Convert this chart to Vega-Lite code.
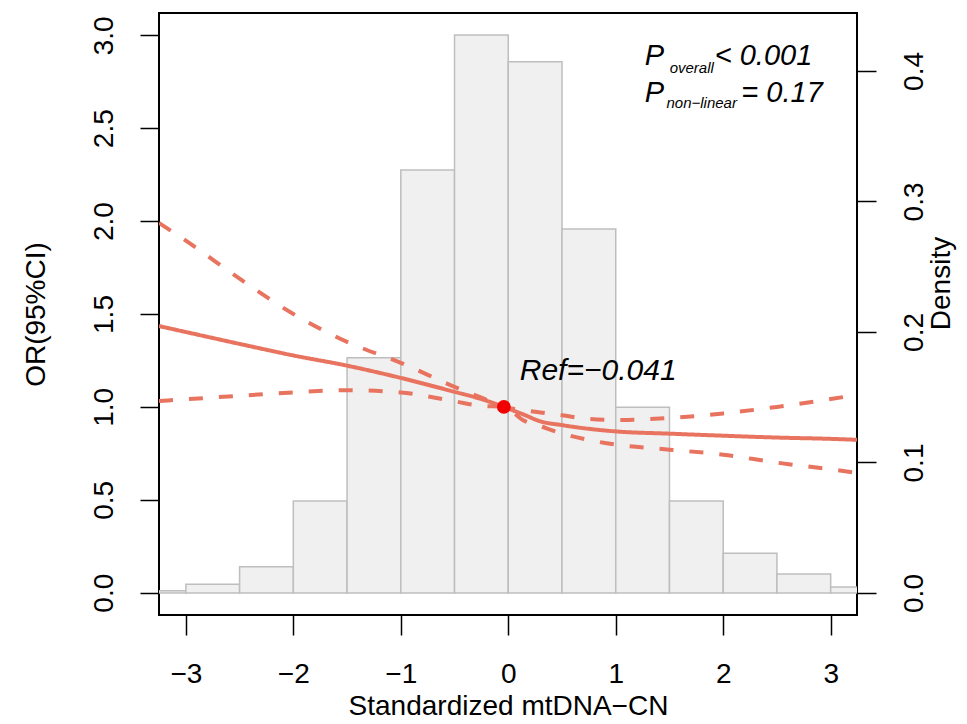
{
  "$schema": "https://vega.github.io/schema/vega-lite/v6.json",
  "width": 698,
  "height": 602,
  "autosize": {"type": "none"},
  "padding": {"left": 159, "top": 13, "right": 110, "bottom": 109},
  "background": "white",
  "config": {
    "font": "Liberation Sans",
    "view": {"stroke": "black", "strokeWidth": 2},
    "axis": {"grid": false, "domain": false, "tickColor": "black", "tickWidth": 1.5, "labelColor": "black", "titleColor": "black", "labelFont": "Liberation Sans", "titleFont": "Liberation Sans", "titleFontWeight": "normal"}
  },
  "datasets": {
    "hist": [
      {"x0": -3.5, "x1": -3.0, "density": 0.0018},
      {"x0": -3.0, "x1": -2.5, "density": 0.0067},
      {"x0": -2.5, "x1": -2.0, "density": 0.0202},
      {"x0": -2.0, "x1": -1.5, "density": 0.0705},
      {"x0": -1.5, "x1": -1.0, "density": 0.1803},
      {"x0": -1.0, "x1": -0.5, "density": 0.3241},
      {"x0": -0.5, "x1": 0.0, "density": 0.4276},
      {"x0": 0.0, "x1": 0.5, "density": 0.4071},
      {"x0": 0.5, "x1": 1.0, "density": 0.2789},
      {"x0": 1.0, "x1": 1.5, "density": 0.1423},
      {"x0": 1.5, "x1": 2.0, "density": 0.0705},
      {"x0": 2.0, "x1": 2.5, "density": 0.0304},
      {"x0": 2.5, "x1": 3.0, "density": 0.0146},
      {"x0": 3.0, "x1": 3.5, "density": 0.0046}
    ],
    "curve": [
      {"x": -3.25, "or": 1.435, "band": "est"}, {"x": -3.0, "or": 1.403, "band": "est"}, {"x": -2.5, "or": 1.339, "band": "est"}, {"x": -2.0, "or": 1.277, "band": "est"}, {"x": -1.5, "or": 1.222, "band": "est"}, {"x": -1.0, "or": 1.156, "band": "est"}, {"x": -0.5, "or": 1.081, "band": "est"}, {"x": -0.25, "or": 1.042, "band": "est"}, {"x": -0.041, "or": 1.0, "band": "est"}, {"x": 0.15, "or": 0.957, "band": "est"}, {"x": 0.3, "or": 0.922, "band": "est"}, {"x": 0.5, "or": 0.902, "band": "est"}, {"x": 0.75, "or": 0.882, "band": "est"}, {"x": 1.0, "or": 0.868, "band": "est"}, {"x": 1.5, "or": 0.856, "band": "est"}, {"x": 2.0, "or": 0.845, "band": "est"}, {"x": 2.5, "or": 0.835, "band": "est"}, {"x": 3.0, "or": 0.828, "band": "est"}, {"x": 3.245, "or": 0.823, "band": "est"},
      {"x": -3.25, "or": 1.032, "band": "lo"}, {"x": -3.0, "or": 1.041, "band": "lo"}, {"x": -2.5, "or": 1.06, "band": "lo"}, {"x": -2.0, "or": 1.078, "band": "lo"}, {"x": -1.5, "or": 1.09, "band": "lo"}, {"x": -1.0, "or": 1.078, "band": "lo"}, {"x": -0.5, "or": 1.03, "band": "lo"}, {"x": -0.25, "or": 1.006, "band": "lo"}, {"x": -0.041, "or": 1.0, "band": "lo"}, {"x": 0.15, "or": 0.925, "band": "lo"}, {"x": 0.3, "or": 0.896, "band": "lo"}, {"x": 0.5, "or": 0.857, "band": "lo"}, {"x": 0.75, "or": 0.822, "band": "lo"}, {"x": 1.0, "or": 0.797, "band": "lo"}, {"x": 1.5, "or": 0.77, "band": "lo"}, {"x": 2.0, "or": 0.743, "band": "lo"}, {"x": 2.5, "or": 0.7, "band": "lo"}, {"x": 3.0, "or": 0.664, "band": "lo"}, {"x": 3.245, "or": 0.645, "band": "lo"},
      {"x": -3.25, "or": 1.99, "band": "hi"}, {"x": -3.0, "or": 1.895, "band": "hi"}, {"x": -2.5, "or": 1.69, "band": "hi"}, {"x": -2.0, "or": 1.5, "band": "hi"}, {"x": -1.5, "or": 1.35, "band": "hi"}, {"x": -1.0, "or": 1.237, "band": "hi"}, {"x": -0.5, "or": 1.108, "band": "hi"}, {"x": -0.25, "or": 1.05, "band": "hi"}, {"x": -0.041, "or": 1.0, "band": "hi"}, {"x": 0.15, "or": 0.982, "band": "hi"}, {"x": 0.3, "or": 0.97, "band": "hi"}, {"x": 0.5, "or": 0.955, "band": "hi"}, {"x": 0.75, "or": 0.935, "band": "hi"}, {"x": 1.0, "or": 0.93, "band": "hi"}, {"x": 1.5, "or": 0.94, "band": "hi"}, {"x": 2.0, "or": 0.965, "band": "hi"}, {"x": 2.5, "or": 1.0, "band": "hi"}, {"x": 3.0, "or": 1.042, "band": "hi"}, {"x": 3.245, "or": 1.065, "band": "hi"}
    ],
    "refpoint": [{"x": -0.041, "or": 1.0}],
    "reftext": [{"x": 0.107, "or": 1.145, "label": "Ref=−0.041"}],
    "pbig": [
      {"x": 1.27, "or": 2.839, "label": "P"},
      {"x": 1.921, "or": 2.839, "label": "< 0.001"},
      {"x": 1.27, "or": 2.641, "label": "P"},
      {"x": 2.169, "or": 2.641, "label": "= 0.17"}
    ],
    "psmall": [
      {"x": 1.502, "or": 2.797, "label": "overall"},
      {"x": 1.472, "or": 2.608, "label": "non−linear"}
    ]
  },
  "resolve": {"scale": {"y": "independent"}},
  "layer": [
    {
      "data": {"name": "hist"},
      "mark": {"type": "bar", "fill": "#F0F0F0", "stroke": "#BEBEBE", "strokeWidth": 1.5, "clip": true},
      "encoding": {
        "x": {"field": "x0", "type": "quantitative", "scale": {"domain": [-3.25, 3.245], "nice": false, "zero": false},
          "axis": {"values": [-3, -2, -1, 0, 1, 2, 3], "format": "d", "title": "Standardized mtDNA−CN", "labelFontSize": 28, "titleFontSize": 28, "tickSize": 20, "labelPadding": 25, "titlePadding": 4}},
        "x2": {"field": "x1"},
        "y": {"field": "density", "type": "quantitative", "scale": {"domain": [-0.01686, 0.4444], "nice": false, "zero": false},
          "axis": {"orient": "right", "values": [0, 0.1, 0.2, 0.3, 0.4], "format": ".1f", "title": "Density", "labelFontSize": 28, "titleFontSize": 28, "labelAngle": -90, "labelAlign": "center", "labelBaseline": "top", "tickSize": 19, "labelPadding": 24, "titleAngle": -90, "titleBaseline": "top", "titlePadding": -1, "titleY": 270}},
        "y2": {"datum": 0}
      }
    },
    {
      "layer": [
        {
          "mark": {"type": "rule", "stroke": "#A8A8A8", "strokeWidth": 2, "strokeDash": [9, 14]},
          "encoding": {"y": {"datum": 1}}
        },
        {
          "data": {"name": "curve"},
          "mark": {"type": "line", "stroke": "#E8735F", "strokeWidth": 4, "interpolate": "monotone", "clip": true},
          "encoding": {
            "x": {"field": "x", "type": "quantitative"},
            "y": {"field": "or", "type": "quantitative", "scale": {"domain": [-0.12, 3.12], "nice": false, "zero": false},
              "axis": {"orient": "left", "values": [0, 0.5, 1, 1.5, 2, 2.5, 3], "format": ".1f", "title": "OR(95%CI)", "labelFontSize": 28, "titleFontSize": 28, "labelAngle": -90, "labelAlign": "center", "labelBaseline": "bottom", "tickSize": 19, "labelPadding": 22, "titlePadding": 40}},
            "detail": {"field": "band"},
            "strokeDash": {"field": "band", "type": "nominal", "scale": {"domain": ["est", "lo", "hi"], "range": [[1, 0], [14, 16], [14, 16]]}, "legend": null}
          }
        },
        {
          "data": {"name": "refpoint"},
          "mark": {"type": "point", "filled": true, "fill": "#F00000", "size": 190, "opacity": 1},
          "encoding": {"x": {"field": "x", "type": "quantitative"}, "y": {"field": "or", "type": "quantitative"}}
        },
        {
          "data": {"name": "reftext"},
          "mark": {"type": "text", "fontStyle": "italic", "fontSize": 30, "align": "left", "baseline": "alphabetic", "color": "black"},
          "encoding": {"x": {"field": "x", "type": "quantitative"}, "y": {"field": "or", "type": "quantitative"}, "text": {"field": "label"}}
        },
        {
          "data": {"name": "pbig"},
          "mark": {"type": "text", "fontStyle": "italic", "fontSize": 29, "align": "left", "baseline": "alphabetic", "color": "black"},
          "encoding": {"x": {"field": "x", "type": "quantitative"}, "y": {"field": "or", "type": "quantitative"}, "text": {"field": "label"}}
        },
        {
          "data": {"name": "psmall"},
          "mark": {"type": "text", "fontStyle": "italic", "fontSize": 15, "align": "left", "baseline": "alphabetic", "color": "black"},
          "encoding": {"x": {"field": "x", "type": "quantitative"}, "y": {"field": "or", "type": "quantitative"}, "text": {"field": "label"}}
        }
      ]
    }
  ]
}
